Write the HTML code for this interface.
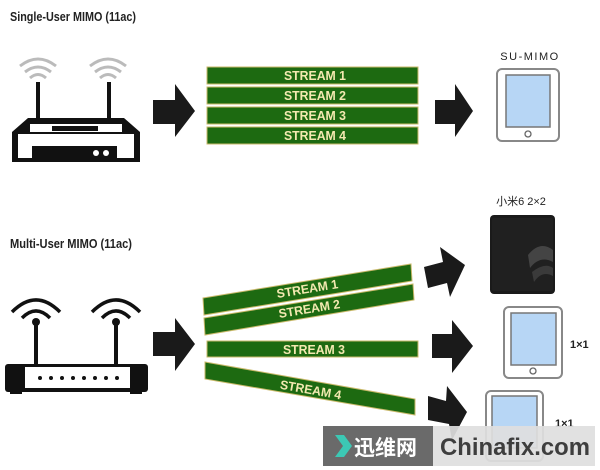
<!DOCTYPE html>
<html><head><meta charset="utf-8"><style>
html,body{margin:0;padding:0;background:#fff;}
svg{display:block;}
.t{font-family:"Liberation Sans",sans-serif;font-weight:bold;}
.s{font-family:"Liberation Sans",sans-serif;font-weight:bold;font-size:12.5px;fill:#f3e9b0;}
</style></head><body>
<svg width="600" height="470" viewBox="0 0 600 470" xmlns="http://www.w3.org/2000/svg">
<text x="10" y="21" class="t" font-size="13" fill="#222" textLength="126" lengthAdjust="spacingAndGlyphs">Single-User MIMO (11ac)</text>
<text x="10" y="248" class="t" font-size="13" fill="#222" textLength="122" lengthAdjust="spacingAndGlyphs">Multi-User MIMO (11ac)</text>

<!-- top router -->
<g fill="none" stroke="#bbb" stroke-width="3">
<path d="M20 66 Q38 52 56 66"/><path d="M25 72 Q38 62 51 72"/><path d="M30 78 Q38 71 46 78"/>
<path d="M90 66 Q108 52 126 66"/><path d="M95 72 Q108 62 121 72"/><path d="M100 78 Q108 71 116 78"/>
</g>
<rect x="36" y="82" width="4" height="38" fill="#111"/>
<rect x="107" y="82" width="4" height="38" fill="#111"/>
<path d="M12 162 L12 132 L28 118 L124 118 L140 132 L140 162 Z" fill="#111"/>
<rect x="18" y="134" width="116" height="24" fill="#fff"/>
<rect x="30" y="124" width="92" height="8" fill="#fff"/>
<rect x="52" y="126" width="46" height="5" fill="#111"/>
<rect x="32" y="146" width="85" height="12" fill="#111"/>
<circle cx="96" cy="153" r="3" fill="#fff"/><circle cx="106" cy="153" r="3" fill="#fff"/>

<!-- arrows -->
<g fill="#1a1a1a">
<path d="M153 100 L175 100 L175 84 L195 111 L175 137 L175 124 L153 124 Z"/>
<path d="M435 100 L455 100 L455 84 L473 111 L455 137 L455 124 L435 124 Z"/>
<path d="M153 332 L175 332 L175 318 L195 344 L175 371 L175 356 L153 356 Z"/>
<path d="M424 267 L443 262 L440 247 L465 265 L450 297 L447 283 L428 288 Z"/>
<path d="M432 334 L452 334 L452 320 L473 346 L452 373 L452 358 L432 358 Z"/>
<path d="M428 396 L446 401 L447 386 L467 412 L452 440 L449 424 L428 420 Z"/>
</g>

<!-- top streams -->
<g stroke="#c9b96a" stroke-width="1">
<rect x="207" y="67" width="211" height="17" fill="#1d6a11"/>
<rect x="207" y="87" width="211" height="17" fill="#1d6a11"/>
<rect x="207" y="107" width="211" height="17" fill="#1d6a11"/>
<rect x="207" y="127" width="211" height="17" fill="#1d6a11"/>
</g>
<g class="s" text-anchor="middle">
<text x="315" y="80" textLength="62" lengthAdjust="spacingAndGlyphs">STREAM 1</text><text x="315" y="100" textLength="62" lengthAdjust="spacingAndGlyphs">STREAM 2</text>
<text x="315" y="120" textLength="62" lengthAdjust="spacingAndGlyphs">STREAM 3</text><text x="315" y="140" textLength="62" lengthAdjust="spacingAndGlyphs">STREAM 4</text>
</g>

<!-- SU tablet -->
<text x="530" y="60" text-anchor="middle" font-family="Liberation Sans,sans-serif" font-size="11" fill="#222" letter-spacing="1.5">SU-MIMO</text>
<rect x="497" y="69" width="62" height="72" rx="5" fill="#fff" stroke="#888" stroke-width="2"/>
<rect x="506" y="75" width="44" height="52" fill="#b7d6f5" stroke="#777" stroke-width="1.5"/>
<circle cx="528" cy="134" r="3" fill="none" stroke="#666" stroke-width="1.3"/>

<!-- bottom router -->
<g fill="none" stroke="#111" stroke-width="3.5">
<path d="M12 312 Q36 288 60 312"/><path d="M22 318 Q36 304 50 318"/>
<path d="M92 312 Q116 288 140 312"/><path d="M102 318 Q116 304 130 318"/>
</g>
<circle cx="36" cy="322" r="4" fill="#111"/><circle cx="116" cy="322" r="4" fill="#111"/>
<rect x="34" y="322" width="4" height="44" fill="#111"/><rect x="114" y="322" width="4" height="44" fill="#111"/>
<rect x="5" y="364" width="143" height="28" rx="3" fill="#111"/>
<rect x="25" y="367" width="105" height="21" fill="#fff"/>
<g fill="#111"><circle cx="40" cy="378" r="2"/><circle cx="51" cy="378" r="2"/><circle cx="62" cy="378" r="2"/><circle cx="73" cy="378" r="2"/><circle cx="84" cy="378" r="2"/><circle cx="95" cy="378" r="2"/><circle cx="106" cy="378" r="2"/><circle cx="117" cy="378" r="2"/></g>
<rect x="10" y="388" width="12" height="6" fill="#111"/><rect x="130" y="388" width="12" height="6" fill="#111"/>

<!-- bottom streams -->
<g stroke="#c9b96a" stroke-width="1" fill="#1d6a11">
<polygon points="203,298 411,264 412,281 204,315"/>
<polygon points="204,318 413,284 414,300 205,335"/>
<rect x="207" y="341" width="211" height="16"/>
<polygon points="205,362 415,399 415,415 205,379"/>
</g>
<g class="s" text-anchor="middle">
<text transform="translate(308,293) rotate(-9.3)" textLength="62" lengthAdjust="spacingAndGlyphs">STREAM 1</text>
<text transform="translate(310,313) rotate(-9.3)" textLength="62" lengthAdjust="spacingAndGlyphs">STREAM 2</text>
<text x="314" y="354" textLength="62" lengthAdjust="spacingAndGlyphs">STREAM 3</text>
<text transform="translate(310,394) rotate(10)" textLength="62" lengthAdjust="spacingAndGlyphs">STREAM 4</text>
</g>

<!-- phone -->
<text x="521" y="205" text-anchor="middle" font-family="Liberation Sans,'Noto Sans CJK SC',sans-serif" font-size="11" fill="#222">小米6 2×2</text>
<rect x="490" y="215" width="65" height="79" rx="4" fill="#1a1a1a"/>
<rect x="492" y="218" width="61" height="73" rx="2" fill="#202020"/>
<path d="M528 255 Q540 240 553 250 L553 262 Q540 255 530 268 Z" fill="#444"/>
<path d="M532 272 Q545 262 553 268 L553 276 Q542 270 534 282 Z" fill="#3a3a3a"/>

<!-- tablet 2 -->
<rect x="504" y="307" width="58" height="71" rx="5" fill="#fff" stroke="#888" stroke-width="2"/>
<rect x="511" y="313" width="45" height="52" fill="#b7d6f5" stroke="#777" stroke-width="1.5"/>
<circle cx="533" cy="371" r="3" fill="none" stroke="#666" stroke-width="1.3"/>
<text x="570" y="348" class="t" font-size="11" fill="#222">1×1</text>

<!-- tablet 3 -->
<rect x="486" y="391" width="57" height="70" rx="5" fill="#fff" stroke="#888" stroke-width="2"/>
<rect x="492" y="396" width="45" height="52" fill="#b7d6f5" stroke="#777" stroke-width="1.5"/>
<text x="555" y="427" class="t" font-size="11" fill="#222">1×1</text>

<!-- watermark -->
<rect x="323" y="426" width="110" height="40" fill="#6a6a6a"/>
<rect x="433" y="426" width="162" height="40" fill="#dedede" opacity="0.92"/>
<path d="M335 435 L344 435 L352 446 L344 457 L335 457 L343 446 Z" fill="#3cc8b4"/>
<text x="354" y="455" font-family="'Noto Sans CJK SC',sans-serif" font-weight="bold" font-size="21" fill="#fff">迅维网</text>
<text x="440" y="455" font-family="Liberation Sans,sans-serif" font-weight="bold" font-size="24" fill="#3e3e3e" textLength="150" lengthAdjust="spacingAndGlyphs">Chinafix.com</text>
</svg>
</body></html>
